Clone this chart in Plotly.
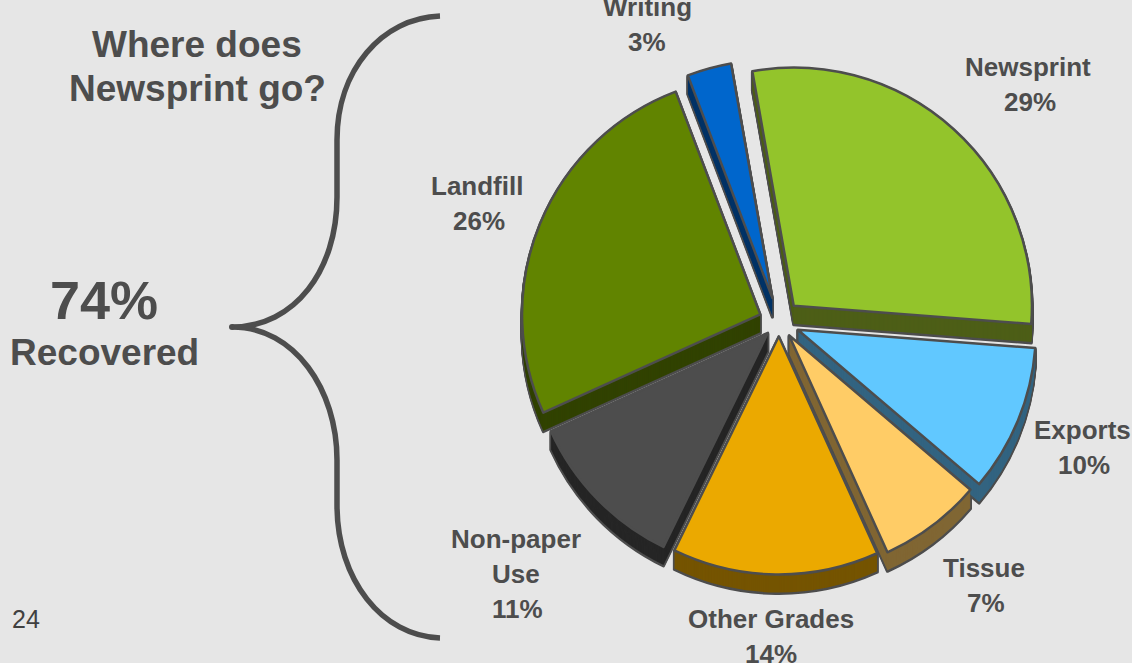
import plotly.graph_objects as go

W, H = 1132, 663

categories = ["Newsprint", "Exports", "Tissue", "Other Grades", "Non-paper Use", "Landfill", "Writing"]
shares = [29, 10, 7, 14, 11, 26, 3]
face_colors = ["#93c42b", "#61c8ff", "#ffcc66", "#eba900", "#4d4d4d", "#618400", "#0066cc"]
side_colors = ["#4d5e17", "#336480", "#806633", "#755400", "#262626", "#314200", "#003366"]
explode = [0.092, 0.085, 0.07, 0.06, 0.065, 0.085, 0.104]

INK = "#4d4d4d"
FONT = "Liberation Sans"


def fx(px):
    return px / W


def fy(py):
    return 1 - py / H


# The pie sits in a square box; plotly shrinks the radius to leave room for the largest pull.
cx, cy, half = 779, 322, 263
DEPTH = 19


def wedge(shift, colors, line_color, line_width):
    return go.Pie(
        labels=categories, values=shares, sort=False, direction="clockwise", rotation=-10,
        pull=explode, textinfo="none", hoverinfo="label+percent", showlegend=False,
        marker=dict(colors=colors, line=dict(color=line_color, width=line_width)),
        domain=dict(x=[fx(cx - half), fx(cx + half)],
                    y=[fy(cy + half + shift), fy(cy - half + shift)]),
    )


fig = go.Figure()
# Extruded rim: an outlined silhouette first, then the dark sides stacked on top of it.
for d in range(DEPTH, 0, -1):
    fig.add_trace(wedge(d, [INK] * len(shares), INK, 3))
for d in range(DEPTH - 1, 0, -1):
    fig.add_trace(wedge(d, side_colors, "rgba(0,0,0,0)", 0))
fig.add_trace(wedge(0, face_colors, INK, 2.5))

annotations = []


def text(label, x, y, size, bold=True, color=INK):
    annotations.append(dict(
        text=f"<b>{label}</b>" if bold else label,
        x=fx(x), y=fy(y), xref="paper", yref="paper", xanchor="center", yanchor="middle",
        showarrow=False, font=dict(family=FONT, size=size, color=color),
    ))


pct = dict(zip(categories, shares))
LABEL = 26
text("Writing", 647, 7, LABEL)
text(f"{pct['Writing']}%", 647, 42, LABEL)
text("Newsprint", 1028, 67, LABEL)
text(f"{pct['Newsprint']}%", 1030, 102, LABEL)
text("Landfill", 477, 186, LABEL)
text(f"{pct['Landfill']}%", 479, 221, LABEL)
text("Exports", 1082, 430, LABEL)
text(f"{pct['Exports']}%", 1084, 465, LABEL)
text("Tissue", 984, 568, LABEL)
text(f"{pct['Tissue']}%", 986, 603, LABEL)
text("Other Grades", 771, 619, LABEL)
text(f"{pct['Other Grades']}%", 771, 654, LABEL)
text("Non-paper", 516, 539, LABEL)
text("Use", 516, 574, LABEL)
text(f"{pct['Non-paper Use']}%", 517, 609, LABEL)

text("Where does", 197, 45, 37)
text("Newsprint go?", 197, 89, 37)
text("74%", 104, 300, 54)
text("Recovered", 104, 352, 37)
text("24", 26, 619, 25, bold=False, color="#404040")

# Curly brace joining the recovered total to the slices.
brace = [
    ("M", (440, 16)),
    ("C", (382, 18), (337, 70), (337, 140)),
    ("L", (337, 197)),
    ("C", (337, 270), (295, 327), (232, 327)),
    ("C", (295, 327), (337, 390), (337, 460)),
    ("L", (337, 505)),
    ("C", (337, 580), (382, 636), (440, 638)),
]
brace_path = " ".join(
    cmd + " " + " ".join(f"{fx(x):.5f} {fy(y):.5f}" for x, y in pts)
    for cmd, *pts in brace
)

fig.update_layout(
    width=W, height=H, margin=dict(l=0, r=0, t=0, b=0),
    paper_bgcolor="#e6e6e6", plot_bgcolor="#e6e6e6",
    annotations=annotations,
    shapes=[
        dict(type="path", path=brace_path, xref="paper", yref="paper",
             line=dict(color=INK, width=5.5), fillcolor="rgba(0,0,0,0)"),
        # Rounded point of the brace.
        dict(type="circle", xref="paper", yref="paper",
             x0=fx(229), x1=fx(235), y0=fy(330), y1=fy(324),
             fillcolor=INK, line=dict(width=0)),
    ],
)
fig.write_html("out.html")
